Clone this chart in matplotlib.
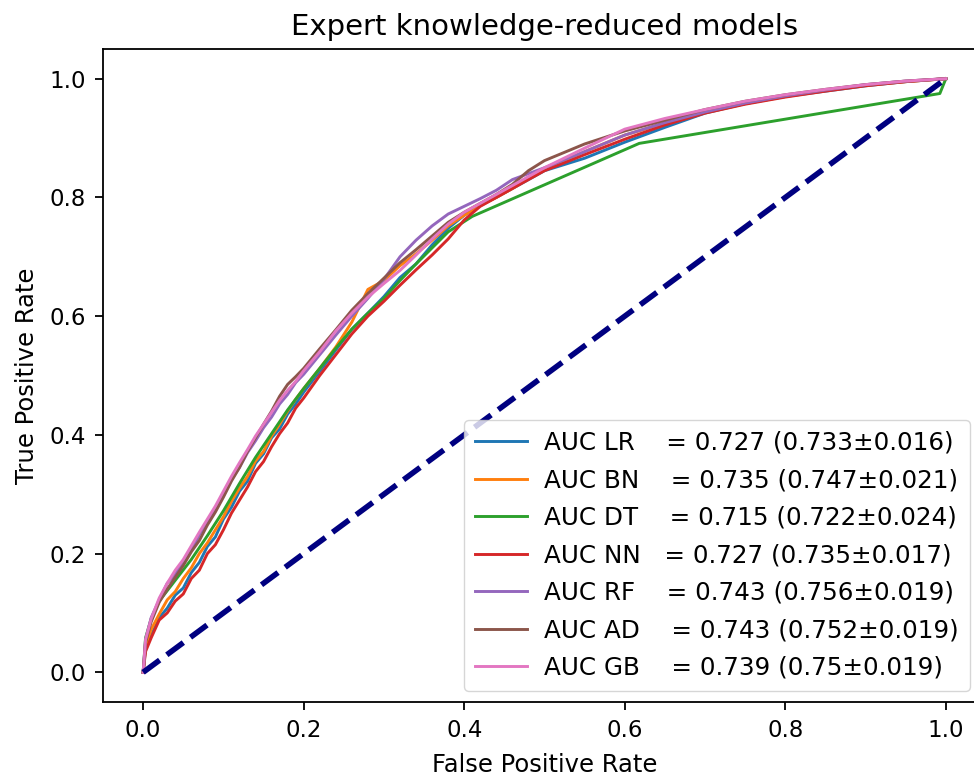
import matplotlib
matplotlib.use("Agg")
import matplotlib.pyplot as plt

title = "Expert knowledge-reduced models"
xlabel = "False Positive Rate"
ylabel = "True Positive Rate"

fpr_grid = [0, 0.003, 0.01, 0.02, 0.03, 0.04, 0.05, 0.06, 0.07, 0.08, 0.09, 0.10, 0.11, 0.12, 0.13,
            0.14, 0.15, 0.16, 0.17, 0.18, 0.19, 0.20, 0.22, 0.24, 0.26, 0.28, 0.30, 0.32, 0.34, 0.36,
            0.38, 0.40, 0.42, 0.44, 0.46, 0.48, 0.50, 0.55, 0.60, 0.65, 0.70, 0.75, 0.80, 0.85, 0.90,
            0.95, 1.0]

tpr_lr = [0, 0.04, 0.062, 0.092, 0.108, 0.13, 0.142, 0.168, 0.185, 0.212, 0.228, 0.258, 0.278, 0.305,
          0.322, 0.352, 0.368, 0.395, 0.41, 0.435, 0.452, 0.472, 0.507, 0.543, 0.578, 0.605, 0.633,
          0.665, 0.688, 0.72, 0.748, 0.77, 0.787, 0.80, 0.815, 0.83, 0.845, 0.866, 0.893, 0.918,
          0.942, 0.958, 0.97, 0.979, 0.988, 0.995, 1.0]
tpr_bn = [0, 0.045, 0.072, 0.098, 0.122, 0.136, 0.158, 0.176, 0.2, 0.218, 0.24, 0.262, 0.288, 0.31,
          0.33, 0.356, 0.372, 0.398, 0.418, 0.44, 0.46, 0.478, 0.512, 0.548, 0.59, 0.645, 0.66,
          0.685, 0.705, 0.728, 0.752, 0.77, 0.786, 0.80, 0.815, 0.832, 0.848, 0.877, 0.905, 0.925,
          0.943, 0.958, 0.97, 0.98, 0.989, 0.995, 1.0]
fpr_dt = [0, 0.003, 0.01, 0.02, 0.04, 0.06, 0.08, 0.10, 0.12, 0.14, 0.16, 0.18, 0.20, 0.22, 0.24,
          0.26, 0.28, 0.30, 0.32, 0.34, 0.36, 0.38, 0.41, 0.618, 0.9925, 1.0]
tpr_dt = [0, 0.058, 0.09, 0.12, 0.155, 0.19, 0.23, 0.272, 0.318, 0.362, 0.402, 0.442, 0.478, 0.512,
          0.546, 0.578, 0.605, 0.63, 0.66, 0.688, 0.715, 0.742, 0.768, 0.891, 0.975, 1.0]
tpr_nn = [0, 0.035, 0.058, 0.088, 0.1, 0.12, 0.132, 0.158, 0.172, 0.2, 0.215, 0.24, 0.268, 0.29,
          0.312, 0.338, 0.355, 0.38, 0.402, 0.42, 0.445, 0.462, 0.5, 0.535, 0.57, 0.6, 0.625,
          0.652, 0.678, 0.703, 0.73, 0.762, 0.785, 0.80, 0.815, 0.83, 0.845, 0.872, 0.898, 0.922,
          0.942, 0.957, 0.969, 0.979, 0.988, 0.995, 1.0]
tpr_rf = [0, 0.055, 0.092, 0.122, 0.15, 0.165, 0.188, 0.205, 0.232, 0.252, 0.275, 0.298, 0.325, 0.345,
          0.37, 0.39, 0.412, 0.43, 0.452, 0.468, 0.488, 0.502, 0.535, 0.568, 0.6, 0.63, 0.662,
          0.7, 0.728, 0.752, 0.772, 0.785, 0.798, 0.812, 0.83, 0.84, 0.85, 0.877, 0.905, 0.926,
          0.944, 0.959, 0.971, 0.981, 0.99, 0.996, 1.0]
tpr_ad = [0, 0.05, 0.085, 0.118, 0.14, 0.16, 0.18, 0.203, 0.222, 0.248, 0.27, 0.295, 0.322, 0.345,
          0.372, 0.395, 0.418, 0.44, 0.465, 0.485, 0.498, 0.512, 0.545, 0.577, 0.61, 0.638, 0.664,
          0.69, 0.712, 0.735, 0.758, 0.775, 0.79, 0.805, 0.822, 0.845, 0.862, 0.89, 0.912, 0.93,
          0.948, 0.962, 0.973, 0.982, 0.99, 0.996, 1.0]
tpr_gb = [0, 0.055, 0.09, 0.125, 0.15, 0.172, 0.19, 0.213, 0.236, 0.258, 0.28, 0.305, 0.33, 0.353,
          0.375, 0.398, 0.418, 0.438, 0.458, 0.475, 0.49, 0.508, 0.54, 0.575, 0.605, 0.632, 0.655,
          0.677, 0.703, 0.73, 0.755, 0.775, 0.79, 0.805, 0.82, 0.835, 0.85, 0.883, 0.915, 0.933,
          0.948, 0.962, 0.973, 0.982, 0.99, 0.996, 1.0]

labels = [
    "AUC LR    = 0.727 (0.733\u00b10.016)",
    "AUC BN    = 0.735 (0.747\u00b10.021)",
    "AUC DT    = 0.715 (0.722\u00b10.024)",
    "AUC NN   = 0.727 (0.735\u00b10.017)",
    "AUC RF    = 0.743 (0.756\u00b10.019)",
    "AUC AD    = 0.743 (0.752\u00b10.019)",
    "AUC GB    = 0.739 (0.75\u00b10.019)",
]
colors = ["#1f77b4", "#ff7f0e", "#2ca02c", "#d62728", "#9467bd", "#8c564b", "#e377c2"]

fig = plt.figure(figsize=(9.74, 7.78), dpi=100)
ax = fig.add_axes([103/974, 76/778, 883/974, 653/778])

series = [
    (fpr_grid, tpr_lr), (fpr_grid, tpr_bn), (fpr_dt, tpr_dt), (fpr_grid, tpr_nn),
    (fpr_grid, tpr_rf), (fpr_grid, tpr_ad), (fpr_grid, tpr_gb),
]
for (fx, ty), lab, c in zip(series, labels, colors):
    ax.plot(fx, ty, color=c, lw=2.1, label=lab)

ax.plot([0, 1], [0, 1], color="navy", lw=4, linestyle="--")

ax.set_xlim(-0.05, 1.05)
ax.set_ylim(-0.05, 1.05)
ax.set_xticks([0.0, 0.2, 0.4, 0.6, 0.8, 1.0])
ax.set_yticks([0.0, 0.2, 0.4, 0.6, 0.8, 1.0])
ax.tick_params(labelsize=16.5, length=6, width=1.3, pad=6)
for s in ax.spines.values():
    s.set_linewidth(1.3)
ax.set_xlabel(xlabel, fontsize=17.5, labelpad=8)
ax.set_ylabel(ylabel, fontsize=17.5, labelpad=8)
ax.set_title(title, fontsize=21, pad=10)

leg = ax.legend(loc="lower right", bbox_to_anchor=(970/974, 87/778),
                bbox_transform=fig.transFigure, borderaxespad=0,
                fontsize=17.7, handlelength=2.1, borderpad=0.45, labelspacing=0.55,
                handletextpad=0.7)

fig.savefig("out.png", dpi=100)
